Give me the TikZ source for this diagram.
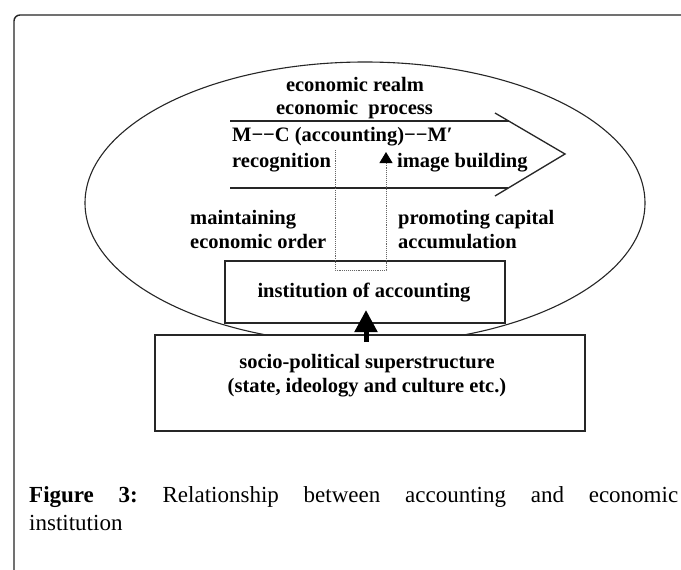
\documentclass[tikz,border=0pt]{standalone}
\usepackage{fontspec}
\setmainfont{Liberation Serif}
\usetikzlibrary{shapes.geometric,arrows.meta}
\begin{document}
\begin{tikzpicture}[x=1pt,y=-1pt,
  lbl/.style={font=\bfseries\fontsize{20.5}{24}\selectfont, inner sep=0pt, text=black},
  box/.style={draw=black!85, line width=1.3pt, fill=white, inner sep=0pt},
  ln/.style={draw=black!85, line width=1.3pt},
  dotln/.style={draw=black!60, line width=0.9pt, densely dotted},
]
\useasboundingbox (0,0) rectangle (681,570);
\fill[white] (0,0) rectangle (681,570);
% frame
\draw[black!85, line width=1.4pt, rounded corners=6pt] (14,572) -- (14,15) -- (684,15);
% ellipse
\node[ellipse, draw=black!85, line width=1.1pt, minimum width=560pt, minimum height=282pt, inner sep=0pt] (realmell) at (365,203) {};
% process arrow
\coordinate (tl) at (230,121); \coordinate (tr) at (509,121);
\coordinate (bl) at (230,188); \coordinate (br) at (508,188);
\coordinate (cu) at (495,113); \coordinate (ct) at (565,154); \coordinate (cd) at (495,196);
\draw[ln] (tl) -- (tr);
\draw[ln] (bl) -- (br);
\draw[ln] (cu) -- (ct) -- (cd);
% texts
\node[lbl, anchor=base] (realm) at (355,91) {economic realm};
\node[lbl, anchor=base] (process) at (354.5,114) {economic\ \ process};
\node[lbl, anchor=base west] (mc) at (232,141) {M−−C (accounting)−−M′};
\node[lbl, anchor=base west] (recog) at (232,167) {recognition};
\node[lbl, anchor=base west] (image) at (397,167) {image building};
\node[lbl, anchor=base west, align=left] (maint) at (190,248) {maintaining\\economic order};
\node[lbl, anchor=base west, align=left] (promo) at (398,248) {promoting capital\\accumulation};
% boxes
\node[box, minimum width=280pt, minimum height=62pt] (inst) at (365,292) {};
\node[lbl, anchor=base] (insttext) at (364,297) {institution of accounting};
\node[box, minimum width=430pt, minimum height=96pt] (socio) at (370,383) {};
\node[lbl, anchor=base, align=center] (sociotext) at (367,392) {socio-political superstructure\\(state, ideology and culture etc.)};
% dotted connector
\coordinate (d1) at (335,150); \coordinate (d2) at (335,270);
\coordinate (d3) at (386,270); \coordinate (d4) at (386,152);
\draw[dotln, -{Triangle[width=13pt,length=11pt,black]}] (d1) -- (d2) -- (d3) -- (d4);
% thick arrow
\coordinate (a1) at (366,342); \coordinate (a2) at (366,310);
\draw[black, line width=5pt, -{Triangle[width=22pt,length=22pt]}] (a1) -- (a2);
% caption
\node[anchor=base west, inner sep=0pt, font=\fontsize{23}{28}\selectfont\frenchspacing, align=left] (cap) at (29,530)
  {\makebox[649pt][s]{\textbf{Figure 3:} Relationship between accounting and economic}\\institution};
\end{tikzpicture}
\end{document}
